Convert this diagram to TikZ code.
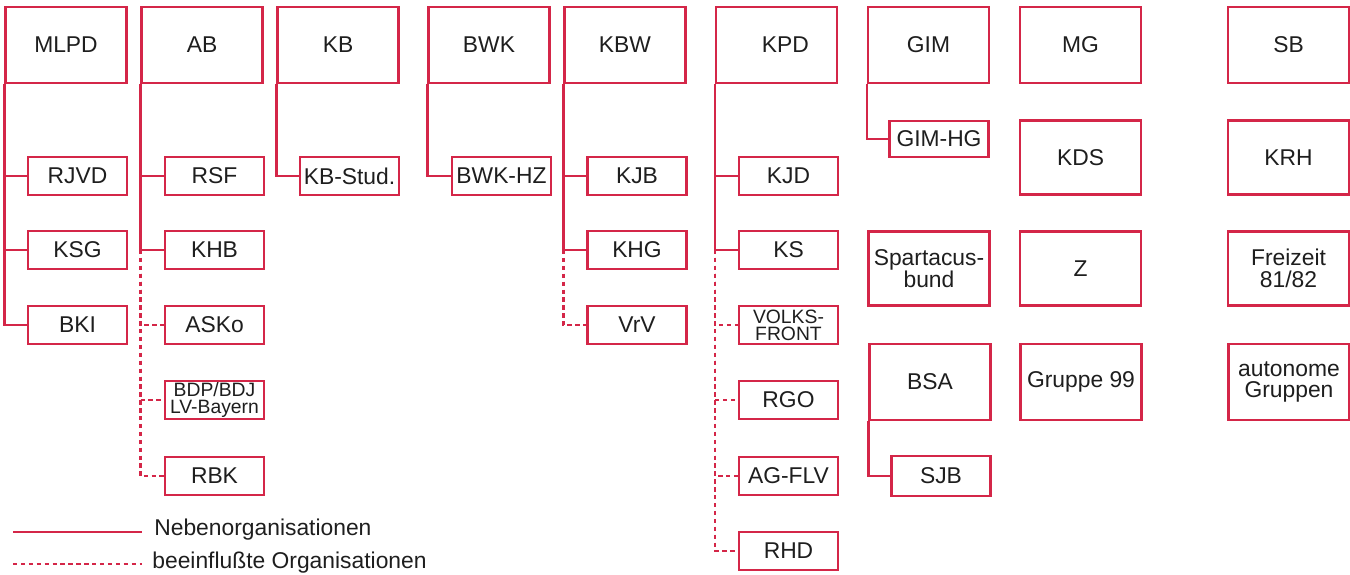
\documentclass[tikz,border=0pt]{standalone}
\usepackage{fontspec}
\setmainfont{Liberation Sans}
\definecolor{orgred}{RGB}{212,38,72}
\definecolor{ink}{RGB}{30,30,30}
\begin{document}
\begin{tikzpicture}[x=0.02cm,y=-0.02cm,
  org/.style={draw=orgred,line width=1.3pt,fill=white,text=ink,inner sep=1pt,align=center,font=\fontsize{13}{12.5}\selectfont},
  big/.style={org,minimum width=2.42cm,minimum height=1.52cm},
  mid/.style={org,minimum width=2.42cm,minimum height=1.48cm},
  small/.style={org,minimum width=1.98cm,minimum height=0.76cm},
  tiny/.style={font=\fontsize{11}{9.6}\selectfont},
  neben/.style={draw=orgred,line width=1.3pt},
  infl/.style={draw=orgred,line width=1.3pt,dash pattern=on 2.5pt off 2pt},
  legend/.style={anchor=west,text=ink,inner sep=0pt,font=\fontsize{13}{14}\selectfont}]
\useasboundingbox (0,0) rectangle (1350,575);
% Hauptorganisationen
\node[big] (MLPD) at (66,45) {MLPD};
\node[big] (AB) at (202,45) {AB};
\node[big] (KB) at (338,45) {KB};
\node[big] (BWK) at (489,45) {BWK};
\node[big] (KBW) at (625,45) {KBW};
\node[big] (KPD) at (776.5,45) {\hspace{10pt}KPD};
\node[big] (GIM) at (928.5,45) {GIM};
\node[big] (MG) at (1080.5,45) {MG};
\node[big] (SB) at (1288.5,45) {SB};
% MLPD
\node[small] (RJVD) at (77.5,176) {RJVD};
\node[small] (KSG) at (77.5,250) {KSG};
\node[small] (BKI) at (77.5,325) {BKI};
\draw[neben] (MLPD.south west) |- (RJVD.west);
\draw[neben] (MLPD.south west) |- (KSG.west);
\draw[neben] (MLPD.south west) |- (BKI.west);
% AB
\node[small] (RSF) at (214.5,176) {RSF};
\node[small] (KHB) at (214.5,250) {KHB};
\node[small] (ASKo) at (214.5,325) {ASKo};
\node[small,tiny] (BDP) at (214.5,400) {BDP/BDJ\\LV-Bayern};
\node[small] (RBK) at (214.5,476) {RBK};
\draw[neben] (AB.south west) |- (RSF.west);
\draw[neben] (AB.south west) |- (KHB.west);
\draw[infl] (AB.west |- KHB.west) |- (ASKo.west);
\draw[infl] (AB.west |- KHB.west) |- (BDP.west);
\draw[infl] (AB.west |- KHB.west) |- (RBK.west);
% KB, BWK
\node[small] (KBStud) at (349.5,176) {KB-Stud.};
\draw[neben] (KB.south west) |- (KBStud.west);
\node[small] (BWKHZ) at (501.5,176) {BWK-HZ};
\draw[neben] (BWK.south west) |- (BWKHZ.west);
% KBW
\node[small] (KJB) at (637,176) {KJB};
\node[small] (KHG) at (637,250) {KHG};
\node[small] (VrV) at (637,325) {VrV};
\draw[neben] (KBW.south west) |- (KJB.west);
\draw[neben] (KBW.south west) |- (KHG.west);
\draw[infl] (KBW.west |- KHG.west) |- (VrV.west);
% KPD
\node[small] (KJD) at (788.5,176) {KJD};
\node[small] (KS) at (788.5,250) {KS};
\node[small,tiny] (VOLKS) at (788.5,325) {VOLKS-\\FRONT};
\node[small] (RGO) at (788.5,400) {RGO};
\node[small] (AGFLV) at (788.5,476) {AG-FLV};
\node[small] (RHD) at (788.5,551) {RHD};
\draw[neben] (KPD.south west) |- (KJD.west);
\draw[neben] (KPD.south west) |- (KS.west);
\foreach \n in {VOLKS,RGO,AGFLV,RHD}
  \draw[infl] (KPD.west |- KS.west) |- (\n.west);
% GIM, BSA
\node[small,minimum height=0.72cm] (GIMHG) at (939,139) {GIM-HG};
\draw[neben] (GIM.south west) |- (GIMHG.west);
\node[mid] (Spartacus) at (929,268.5) {Spartacus-\\bund};
\node[big] (BSA) at (930,382) {BSA};
\node[small,minimum height=0.8cm] (SJB) at (941,476) {SJB};
\draw[neben] (BSA.south west) |- (SJB.west);
% ohne Nebenorganisationen
\node[mid] (KDS) at (1080.5,157.5) {KDS};
\node[mid] (Z) at (1080.5,268.5) {Z};
\node[big] (G99) at (1081,382) {Gruppe 99};
\node[mid] (KRH) at (1288.5,157.5) {KRH};
\node[mid] (Freizeit) at (1288.5,268.5) {Freizeit\\81/82};
\node[big] (autonome) at (1289,382) {autonome\\Gruppen};
% Legende
\coordinate (nebenA) at (13,532);
\coordinate (nebenB) at (142,532);
\coordinate (inflA) at (13,564);
\coordinate (inflB) at (142,564);
\draw[neben] (nebenA) -- (nebenB);
\draw[infl] (inflA) -- (inflB);
\node[legend] (nebentext) at (154,530) {Nebenorganisationen};
\node[legend] (infltext) at (152,563) {beeinflußte Organisationen};
\end{tikzpicture}
\end{document}
